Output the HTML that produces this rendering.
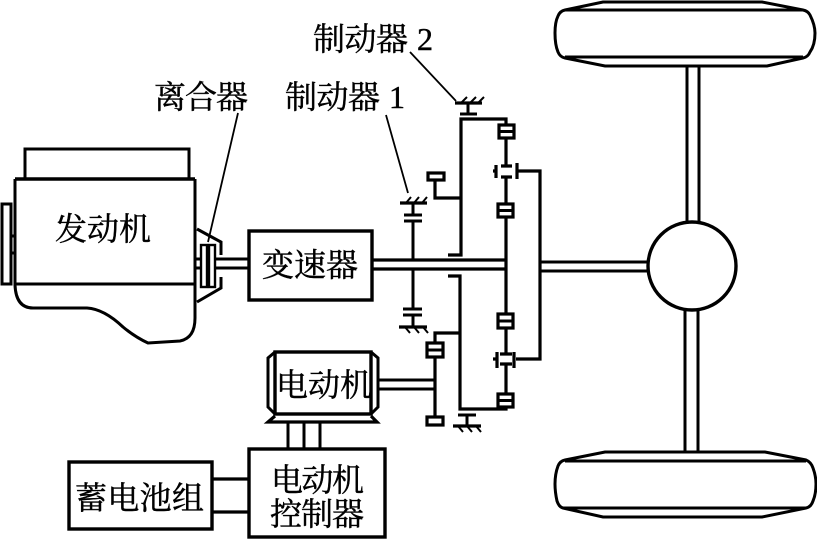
<!DOCTYPE html>
<html><head><meta charset="utf-8"><style>
html,body{margin:0;padding:0;background:#fff}
svg{display:block}
text{font-family:"Liberation Serif","Noto Serif CJK SC",serif;font-size:32px;fill:#000;stroke:#000;stroke-width:.45px}
</style></head><body>
<svg width="817" height="539" viewBox="0 0 817 539" xmlns="http://www.w3.org/2000/svg">
<g fill="none" stroke="#000" stroke-width="3">
<!-- wheels -->
<path d="M603,2 L762,2 L803,10 Q808,11 810,15 Q815,25 815,33 Q815,45 810,52 Q808,57 803,58 L767,66 L605,66 L565,58 Q560,57 558,52 Q555,45 555,33 Q555,22 558,16 Q560,11 565,10 Z"/>
<path d="M565,10H803M565,57H803"/>
<path d="M605,452 L765,452 L806,460 Q811,462 813,468 Q816,476 816,484 Q816,494 813,501 Q811,507 806,508 L762,517 L603,517 L563,508 Q559,507 557,501 Q555,492 555,484 Q555,474 558,466 Q560,461 565,460 Z"/>
<path d="M565,461H806M563,508H806"/>
<!-- axles -->
<path d="M687,67V224M699,67V224M685,309V452M698,309V452"/>
<circle cx="692" cy="266" r="44" stroke-width="3.4"/>
<path d="M540,262H648M540,271H648"/>
<!-- engine -->
<path d="M25,179V149H189V179"/>
<path d="M15,179H195" stroke-width="3.6"/>
<path d="M15,179V285Q16,308 33,308H87Q104,309 123,327Q135,337 148,343L180,341Q195,338 195,318V179"/>
<path d="M15,284H195"/>
<rect x="2" y="204" width="9" height="80"/>
<path d="M11,236H15M11,253H15"/>
<!-- clutch -->
<path d="M197,229L208,235L221,242V255M221,277V288L197,302"/>
<rect x="201" y="245" width="6" height="42" stroke-width="2.4"/>
<rect x="209" y="245" width="6" height="42" stroke-width="2.4"/>
<path d="M195,259H201M195,268H201M215,259H248M215,268H248"/>
<!-- gearbox -->
<rect x="249" y="231" width="123" height="69" stroke-width="3.4"/>
<!-- main shaft -->
<path d="M372,260H506M372,269H506" stroke-width="3.2"/>
<!-- brake 1 -->
<path d="M413,203V215M404,215H422M404,221H422M413,221V260M413,269V309M403,309H422M403,315H422M413,315V327"/>
<path d="M400,203H427M399,327H427" stroke-width="3.2"/>
<path d="M406,203L411,197M414,203L419,197M422,203L427,197M405,327L410,333M414,327L419,333M423,327L428,333" stroke-width="2"/>
<!-- brake 2 -->
<path d="M468,103V114M460,114H477M458,415H476M467,415V426"/>
<path d="M455,103H482M453,426H481" stroke-width="3.2"/>
<path d="M461,103L467,97M470,103L476,97M478,103L484,97M458,426L463,432M467,426L472,432M476,426L481,432" stroke-width="2"/>
<!-- upper carrier -->
<path d="M448,255H461V119H506V125M461,198H435V180" stroke-width="3.2"/>
<rect x="428" y="173" width="16" height="7" stroke-width="3.2"/>
<!-- lower carrier -->
<path d="M448,276H460V409H506V407M460,333H435V343M435,357V417" stroke-width="3.2"/>
<rect x="427" y="417" width="16" height="8" stroke-width="3.2"/>
<rect x="427" y="343" width="16" height="14" stroke-width="3.2"/>
<path d="M427,350H443"/>
<!-- planetary gears -->
<path d="M506,138V166M506,177V204M506,217V314M506,328V354M506,364V394" stroke-width="3.2"/>
<rect x="499" y="125" width="15" height="13" stroke-width="3.2"/><path d="M499,131.500H514"/>
<rect x="498" y="204" width="15" height="13" stroke-width="3.2"/><path d="M498,210.500H513"/>
<rect x="498" y="314" width="15" height="14" stroke-width="3.2"/><path d="M498,321H513"/>
<rect x="498" y="394" width="15" height="13" stroke-width="3.2"/><path d="M498,400.500H513"/>
<path d="M501,166H512M501,177H512M496,165V178M493,171H496M517,163V179M517,171H540V359H516M497,352V368M493,359H497M514,352V368M500,354H512M500,364H512" stroke-width="3.2"/>
<!-- motor -->
<rect x="275" y="352" width="96" height="62" stroke-width="3.4"/>
<path d="M275,352L268,358V407L275,414M371,352L378,358V407L371,414"/>
<path d="M275,416L268,422H377L371,416" stroke-width="3.2"/>
<path d="M378,380H435M378,389H435"/>
<path d="M288,422V449M304,422V449M320,422V449"/>
<!-- controller & battery -->
<rect x="249" y="449" width="136" height="88" stroke-width="3.4"/>
<rect x="69" y="462" width="143" height="67" stroke-width="3.4"/>
<path d="M212,479H249M212,512H249" stroke-width="3.2"/>
<!-- leaders -->
<path d="M238,113L208,242M386,115L408,193M410,52L456,101" stroke-width="1.8"/>
</g>
<text x="55" y="240" textLength="96">发动机</text>
<text x="262" y="276" textLength="96">变速器</text>
<text x="276" y="396" textLength="96">电动机</text>
<text x="75" y="509" textLength="129">蓄电池组</text>
<text x="271" y="491" textLength="93">电动机</text>
<text x="270" y="525" textLength="94">控制器</text>
<text x="154" y="108" textLength="94">离合器</text>
<text x="285" y="108" textLength="95">制动器</text>
<text x="389" y="108">1</text>
<text x="313" y="50" textLength="95">制动器</text>
<text x="417" y="50">2</text>
</svg>
</body></html>
